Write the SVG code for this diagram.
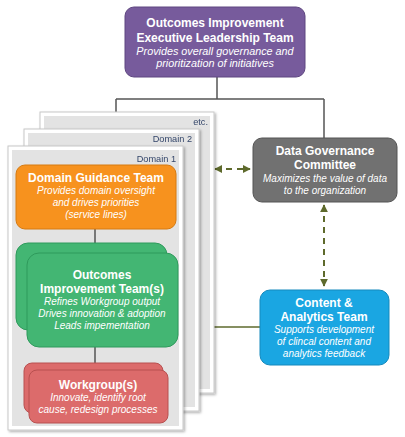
<svg xmlns="http://www.w3.org/2000/svg" width="405" height="437" viewBox="0 0 405 437">
<defs>
<style>
.b{font-family:"Liberation Sans",Arial,sans-serif;font-weight:bold;font-size:12px;fill:#fff;text-anchor:middle}
.i{font-family:"Liberation Sans",Arial,sans-serif;font-style:italic;font-size:10px;fill:#fff;text-anchor:middle}
.ie{font-size:10.8px}
.d{font-family:"Liberation Sans",Arial,sans-serif;font-size:9.2px;fill:#34466a;text-anchor:end}
.po{fill:#fff;stroke:#c8c8c8;stroke-width:1}
.pi{fill:#e3e3e3}
.ln{stroke:#555;stroke-width:1.5;fill:none}
.ol{stroke:#5e6a2c;stroke-width:1.5;fill:none}
.da{stroke:#5e6a2c;stroke-width:2;fill:none;stroke-dasharray:6,5}
</style>
<marker id="ah" viewBox="0 0 10 10" refX="9" refY="5" markerWidth="4" markerHeight="4" orient="auto-start-reverse">
<path d="M0,0 L10,5 L0,10 z" fill="#5e6a2c"/>
</marker>
<filter id="sh" x="-10%" y="-10%" width="130%" height="130%">
<feDropShadow dx="1.5" dy="1.5" stdDeviation="1.2" flood-color="#000" flood-opacity="0.3"/>
</filter>
</defs>
<rect width="405" height="437" fill="#fff"/>

<g id="connectors">
<path class="ln" d="M217,77 V99 M116,99 H324 M116,99 V112 M324,99 V138"/>
<path class="ol" d="M214,327 H260"/>
<path class="da" d="M215,169 H250" marker-start="url(#ah)" marker-end="url(#ah)"/>
<path class="da" d="M324,205 V286" marker-start="url(#ah)" marker-end="url(#ah)"/>
</g>

<g id="panel-etc" filter="url(#sh)">
<rect class="po" x="40" y="112" width="174" height="281"/>
<rect class="pi" x="44" y="116" width="166" height="273"/>
<text class="d" x="208" y="125">etc.</text>
</g>
<g id="panel-domain2" filter="url(#sh)">
<rect class="po" x="24" y="129" width="175" height="282"/>
<rect class="pi" x="28" y="133" width="167" height="274"/>
<text class="d" x="192" y="142">Domain 2</text>
</g>
<g id="panel-domain1" filter="url(#sh)">
<rect class="po" x="8" y="146" width="175" height="284"/>
<rect class="pi" x="12" y="150" width="167" height="276"/>
<text class="d" x="176" y="162">Domain 1</text>
</g>
<g id="domain-connectors">
<path class="ln" d="M95,229 V245 M95,347 V363"/>
</g>

<g id="exec-team">
<rect x="125" y="7" width="180" height="70" rx="9" fill="#775b9c" stroke="#5e4680" stroke-width="1"/>
<text class="b" x="215" y="27">Outcomes Improvement</text>
<text class="b" x="215" y="42">Executive Leadership Team</text>
<text class="i ie" x="215" y="55">Provides overall governance and</text>
<text class="i ie" x="215" y="67">prioritization of initiatives</text>
</g>

<g id="data-governance">
<rect x="253" y="138" width="144" height="64" rx="9" fill="#717171" stroke="#555" stroke-width="1"/>
<text class="b" x="325" y="155">Data Governance</text>
<text class="b" x="325" y="169">Committee</text>
<text class="i" x="325" y="182">Maximizes the value of data</text>
<text class="i" x="325" y="194">to the organization</text>
</g>

<g id="content-analytics">
<rect x="260" y="290" width="129" height="75" rx="10" fill="#1aa6e2" stroke="#1589bd" stroke-width="1"/>
<text class="b" x="324" y="307">Content &amp;</text>
<text class="b" x="324" y="321">Analytics Team</text>
<text class="i" x="324" y="333">Supports development</text>
<text class="i" x="324" y="345">of clincal content and</text>
<text class="i" x="324" y="357">analytics feedback</text>
</g>

<g id="domain-guidance">
<rect x="16" y="165" width="160" height="64" rx="9" fill="#f7921e" stroke="#d67a10" stroke-width="1"/>
<text class="b" x="96" y="182">Domain Guidance Team</text>
<text class="i" x="96" y="194">Provides domain oversight</text>
<text class="i" x="96" y="206">and drives priorities</text>
<text class="i" x="96" y="218">(service lines)</text>
</g>

<g id="outcomes-team">
<rect x="16" y="243" width="151" height="87" rx="12" fill="#43b673" stroke="#2f9a5c" stroke-width="1"/>
<rect x="27" y="253" width="151" height="94" rx="12" fill="#43b673" stroke="#2f9a5c" stroke-width="1"/>
<text class="b" x="102" y="279">Outcomes</text>
<text class="b" x="102" y="293">Improvement Team(s)</text>
<text class="i" x="102" y="305">Refines Workgroup output</text>
<text class="i" x="102" y="317">Drives innovation &amp; adoption</text>
<text class="i" x="102" y="329">Leads impementation</text>
</g>

<g id="workgroups">
<rect x="24" y="363" width="139" height="50" rx="8" fill="#dc6b6b" stroke="#b85050" stroke-width="1"/>
<rect x="29" y="370" width="139" height="53" rx="8" fill="#dc6b6b" stroke="#b85050" stroke-width="1"/>
<text class="b" x="98" y="389">Workgroup(s)</text>
<text class="i" x="98" y="401">Innovate, identify root</text>
<text class="i" x="98" y="413">cause, redesign processes</text>
</g>
</svg>
